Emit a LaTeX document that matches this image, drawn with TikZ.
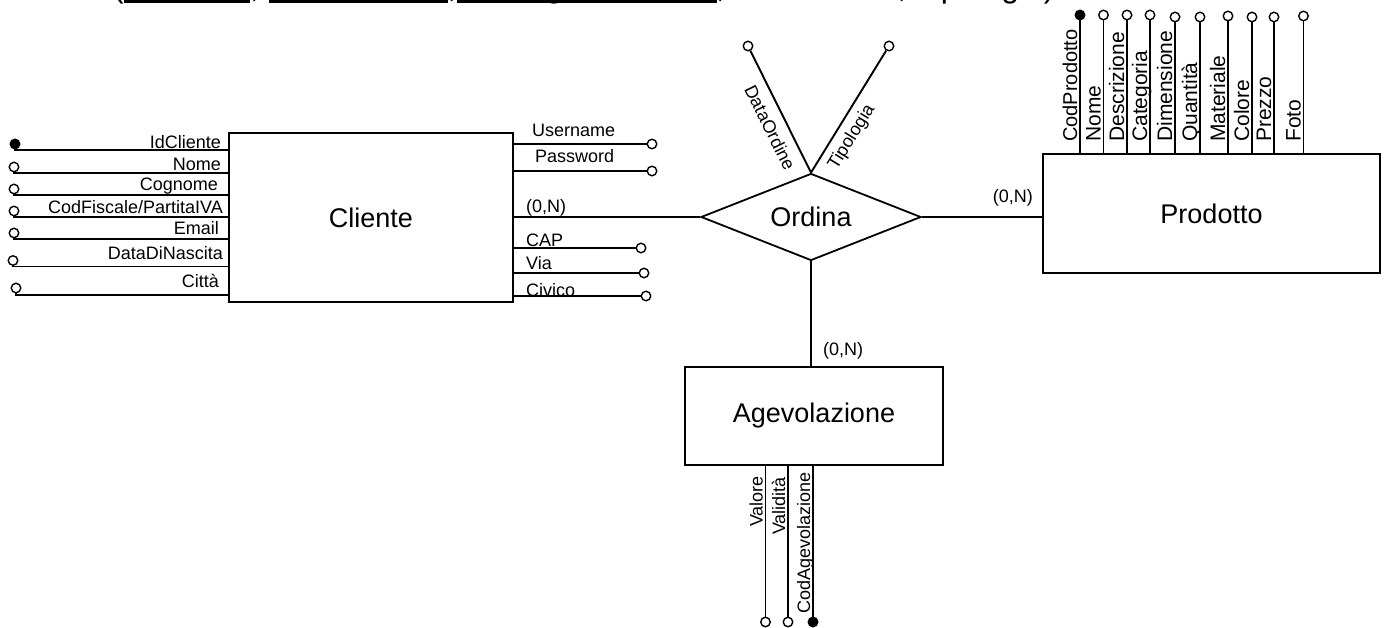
\documentclass[tikz,border=0pt]{standalone}
\usepackage{fontspec}
\setmainfont{Liberation Sans}
\usetikzlibrary{shapes.geometric}
\begin{document}
\begin{tikzpicture}[x=1pt,y=1pt,
  ent/.style={draw,line width=2pt,rectangle,inner sep=0pt,font=\fontsize{27}{32}\selectfont},
  rel/.style={draw,line width=1.8pt,diamond,inner sep=0pt,font=\fontsize{27}{32}\selectfont},
  conn/.style={line width=1.9pt},
  attr/.style={circle,draw,line width=1.4pt,fill=white,minimum size=9.5pt,inner sep=0pt},
  keyattr/.style={attr,fill=black},
  lab/.style={inner sep=0pt,font=\fontsize{18}{21}\selectfont},
  llab/.style={lab,anchor=base east},
  rlab/.style={lab,anchor=base west},
  plab/.style={inner sep=0pt,font=\fontsize{21}{24}\selectfont,rotate=90,anchor=base west},
  alab/.style={lab,rotate=90,anchor=base east}]
\useasboundingbox (0,0) rectangle (1384,-628);

% cut-off title line
\node[inner sep=0pt,anchor=base west,font=\fontsize{32}{38}\selectfont] (titolo) at (113,2) {(IdCliente, CodProdotto, CodAgevolazione, DataOrdine, Tipologia)};
\fill (124,0) rectangle (250,-3);
\fill (269,0) rectangle (448,-3);
\fill (457,0) rectangle (717,-3);

% entities and relation
\node[ent,minimum width=284pt,minimum height=169pt] (cliente) at (371,-217.5) {Cliente};
\node[ent,minimum width=337pt,minimum height=119pt] (prodotto) at (1211.5,-213.5) {Prodotto};
\node[ent,minimum width=258pt,minimum height=98pt] (agev) at (814,-416) {Agevolazione};
\node[rel,minimum width=220pt,minimum height=87pt,aspect=2.5] (ordina) at (811,-217) {Ordina};

% relation connectors
\draw[conn] (ordina.west) -- (ordina.west -| cliente.east);
\draw[conn] (ordina.east) -- (ordina.east -| prodotto.west);
\draw[conn] (ordina.south) -- (ordina.south |- agev.north);
\node[rlab] (cn1) at (526,-212.7) {(0,N)};
\node[llab] (cn2) at (1033,-203) {(0,N)};
\node[rlab] (cn3) at (823,-355) {(0,N)};

% Cliente, left attributes
\node[keyattr] (c1) at (15,-144) {};
\draw[conn] (c1.south) |- (cliente.west |- 0,-150);
\node[llab] (c1l) at (221,-149) {IdCliente};
\node[attr] (c2) at (14,-167) {};
\draw[conn] (c2.south) |- (cliente.west |- 0,-173);
\node[llab] (c2l) at (221,-171) {Nome};
\node[attr] (c3) at (14,-189) {};
\draw[conn] (c3.south) |- (cliente.west |- 0,-195);
\node[llab] (c3l) at (218,-191) {Cognome};
\node[attr] (c4) at (14,-211) {};
\draw[conn] (c4.south) |- (cliente.west |- 0,-217);
\node[llab] (c4l) at (223,-214) {CodFiscale/PartitaIVA};
\node[attr] (c5) at (14,-233) {};
\draw[conn] (c5.south) |- (cliente.west |- 0,-239);
\node[llab] (c5l) at (219,-235) {Email};
\node[attr] (c6) at (13,-260.5) {};
\draw[conn] (c6.south) |- (cliente.west |- 0,-266.5);
\node[llab] (c6l) at (223,-260) {DataDiNascita};
\node[attr] (c7) at (16,-288) {};
\draw[conn] (c7.south) |- (cliente.west |- 0,-295);
\node[llab] (c7l) at (219,-288) {Città};

% Cliente, right attributes
\node[attr] (u1) at (652,-144) {};
\draw[conn] (cliente.east |- u1) -- (u1);
\node[rlab] (u1l) at (532,-137) {Username};
\node[attr] (u2) at (652,-171) {};
\draw[conn] (cliente.east |- u2) -- (u2);
\node[rlab] (u2l) at (535,-163) {Password};
\node[attr] (u3) at (641,-248) {};
\draw[conn] (cliente.east |- u3) -- (u3);
\node[rlab] (u3l) at (526,-246.5) {CAP};
\node[attr] (u4) at (644,-273) {};
\draw[conn] (cliente.east |- u4) -- (u4);
\node[rlab] (u4l) at (526,-270) {Via};
\node[attr] (u5) at (646,-296) {};
\draw[conn] (cliente.east |- u5) -- (u5);
\node[rlab] (u5l) at (526,-297) {Civico};

% Ordina attributes
\node[attr] (o1) at (748,-46) {};
\draw[conn] (o1) -- (ordina.north) node[lab,pos=0.57,sloped,below=9pt] (o1l) {DataOrdine};
\node[attr] (o2) at (889,-46) {};
\draw[conn] (ordina.north) -- (o2) node[lab,pos=0.36,sloped,below=7pt] (o2l) {Tipologia};

% Prodotto attributes
\node[keyattr] (p1) at (1080,-15) {};
\draw[conn] (p1) -- (p1 |- prodotto.north);
\node[plab,font=\fontsize{20}{24}\selectfont] (p1l) at (1077,-142) {CodProdotto};
\node[attr] (p2) at (1103.5,-15) {};
\draw[conn] (p2) -- (p2 |- prodotto.north);
\node[plab] (p2l) at (1100.5,-142) {Nome};
\node[attr] (p3) at (1127,-15) {};
\draw[conn] (p3) -- (p3 |- prodotto.north);
\node[plab] (p3l) at (1124,-142) {Descrizione};
\node[attr] (p4) at (1150,-15) {};
\draw[conn] (p4) -- (p4 |- prodotto.north);
\node[plab] (p4l) at (1147,-142) {Categoria};
\node[attr] (p5) at (1175,-17) {};
\draw[conn] (p5) -- (p5 |- prodotto.north);
\node[plab] (p5l) at (1172,-142) {Dimensione};
\node[attr] (p6) at (1200,-17) {};
\draw[conn] (p6) -- (p6 |- prodotto.north);
\node[plab] (p6l) at (1197,-142) {Quantità};
\node[attr] (p7) at (1228,-16) {};
\draw[conn] (p7) -- (p7 |- prodotto.north);
\node[plab] (p7l) at (1225,-142) {Materiale};
\node[attr] (p8) at (1252,-17) {};
\draw[conn] (p8) -- (p8 |- prodotto.north);
\node[plab] (p8l) at (1249,-142) {Colore};
\node[attr] (p9) at (1274,-17) {};
\draw[conn] (p9) -- (p9 |- prodotto.north);
\node[plab] (p9l) at (1271,-142) {Prezzo};
\node[attr] (p10) at (1303.5,-16) {};
\draw[conn] (p10) -- (p10 |- prodotto.north);
\node[plab] (p10l) at (1300.5,-142) {Foto};

% Agevolazione attributes
\node[attr] (a1) at (765.5,-622) {};
\draw[conn] (a1) -- (a1 |- agev.south);
\node[alab] (a1l) at (762.5,-476) {Valore};
\node[attr] (a2) at (788,-622) {};
\draw[conn] (a2) -- (a2 |- agev.south);
\node[alab] (a2l) at (785,-477) {Validità};
\node[keyattr] (a3) at (813,-622) {};
\draw[conn] (a3) -- (a3 |- agev.south);
\node[alab] (a3l) at (810,-472) {CodAgevolazione};
\end{tikzpicture}
\end{document}
